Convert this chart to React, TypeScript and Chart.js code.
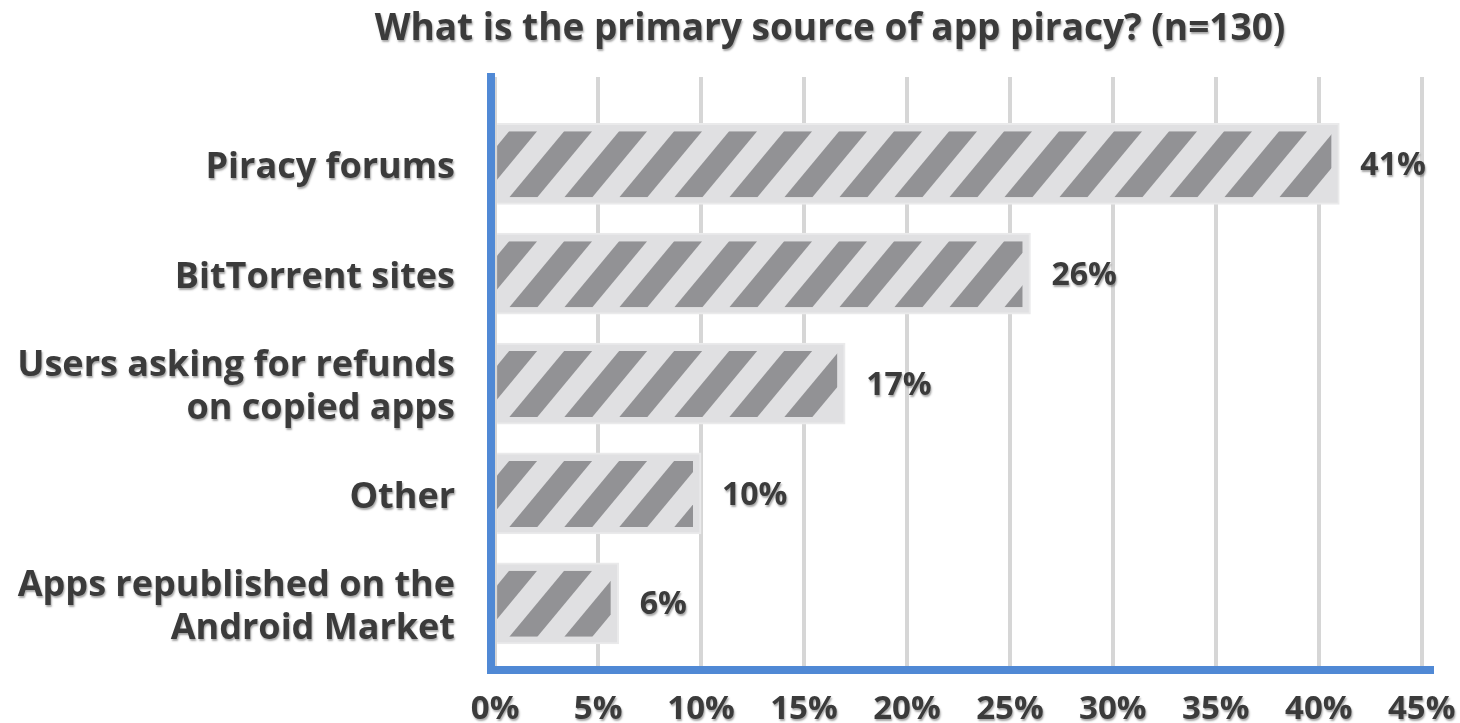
import React, { useEffect, useRef } from "react";
import { Chart, registerables } from "chart.js";

Chart.register(...registerables);

const TITLE = "What is the primary source of app piracy? (n=130)";
const categories: (string | string[])[] = [
  "Piracy forums",
  "BitTorrent sites",
  ["Users asking for refunds", "on copied apps"],
  "Other",
  ["Apps republished on the", "Android Market"],
];
const shares = [41, 26, 17, 10, 6];
const xTickValues = [0, 5, 10, 15, 20, 25, 30, 35, 40, 45];

const FONT = "'Open Sans', 'DejaVu Sans', sans-serif";
const TEXT = "#3b3b3b";
const BLUE = "#5089d5";
const GRID = "#d6d6d6";
const BAR_FILL = "#e0e0e2";
const BAR_EDGE = "#eaeaeb";
const STRIPE = "#929295";

const PLOT_LEFT = 491;
const PLOT_TOP = 77;
const PAD_RIGHT = 28;
const TITLE_CENTER_X = 830;
const TITLE_BASELINE = 40;

const stripePlugin = {
  id: "stripesAndLabels",
  afterDatasetsDraw(chart: any) {
    const ctx = chart.ctx as CanvasRenderingContext2D;
    const meta = chart.getDatasetMeta(0);
    meta.data.forEach((bar: any) => {
      const { x, y, base, height } = bar.getProps(["x", "y", "base", "height"], true);
      const left = Math.min(base, x);
      const right = Math.max(base, x) - 8;
      const top = y - height / 2 + 8;
      const bottom = y + height / 2 - 7;
      const bandH = bottom - top;
      const shift = bandH * 0.83;
      const period = 55;
      const w = 28;
      ctx.save();
      ctx.beginPath();
      ctx.rect(left, top, right - left, bandH);
      ctx.clip();
      ctx.fillStyle = STRIPE;
      for (let a = left + 12 - period; a < right + shift + period; a += period) {
        ctx.beginPath();
        ctx.moveTo(a, top);
        ctx.lineTo(a + w, top);
        ctx.lineTo(a + w - shift, bottom);
        ctx.lineTo(a - shift, bottom);
        ctx.closePath();
        ctx.fill();
      }
      ctx.restore();
    });
    ctx.save();
    ctx.shadowColor = "rgba(60,60,60,0.45)";
    ctx.shadowOffsetX = 1;
    ctx.shadowOffsetY = 2;
    ctx.shadowBlur = 2;
    ctx.fillStyle = TEXT;
    // title
    ctx.font = `bold 37px ${FONT}`;
    ctx.textAlign = "center";
    ctx.textBaseline = "alphabetic";
    ctx.fillText(TITLE, TITLE_CENTER_X, TITLE_BASELINE);
    // value labels
    ctx.font = `bold 32px ${FONT}`;
    ctx.textAlign = "left";
    ctx.textBaseline = "middle";
    meta.data.forEach((bar: any, i: number) => {
      const { x, y } = bar.getProps(["x", "y"], true);
      ctx.fillText(`${shares[i]}%`, x + 21, y + 2);
    });
    // shadow stays on for the tick labels (z: 1, drawn after datasets); restored in afterDraw
  },
  afterDraw(chart: any) {
    chart.ctx.restore();
  },
};

export default function App() {
  const canvasRef = useRef<HTMLCanvasElement | null>(null);

  useEffect(() => {
    if (!canvasRef.current) return;
    const chart = new Chart(canvasRef.current, {
      type: "bar",
      data: {
        datasets: [
          {
            data: shares.map((v, i) => ({ x: v, y: i })),
            backgroundColor: BAR_FILL,
            borderColor: BAR_EDGE,
            borderWidth: 2,
            barThickness: 81,
          },
        ],
      },
      options: {
        indexAxis: "y",
        animation: false,
        responsive: true,
        maintainAspectRatio: false,
        layout: { padding: { left: 0, right: PAD_RIGHT, top: PLOT_TOP, bottom: 0 } },
        plugins: {
          legend: { display: false },
          tooltip: { enabled: false },
          title: { display: false },
        },
        scales: {
          x: {
            type: "linear",
            min: -0.2,
            max: 45.5,
            offset: false,
            afterBuildTicks: (s: any) => {
              s.ticks = xTickValues.map((v) => ({ value: v }));
            },
            afterFit: (s: any) => {
              s.height = 53;
              s.paddingRight = 0;
              s.paddingLeft = 0;
            },
            grid: { color: GRID, lineWidth: 4, drawTicks: false, offset: false },
            border: { display: true, color: BLUE, width: 8 },
            ticks: {
              z: 1,
              padding: 20,
              color: TEXT,
              font: { family: FONT, size: 33, weight: "bold", lineHeight: 1.2 },
              callback: (v: any) => `${v}%`,
              maxRotation: 0,
              autoSkip: false,
            },
          },
          y: {
            type: "linear",
            reverse: true,
            offset: false,
            min: -0.79,
            max: 4.607,
            afterBuildTicks: (s: any) => {
              s.ticks = categories.map((_, i) => ({ value: i }));
            },
            afterFit: (s: any) => {
              s.width = PLOT_LEFT;
              s.paddingTop = 0;
              s.paddingBottom = 0;
            },
            grid: { display: false, drawTicks: false, offset: false },
            border: { display: true, color: BLUE, width: 8 },
            ticks: {
              z: 1,
              padding: 36,
              labelOffset: 4,
              color: TEXT,
              font: { family: FONT, size: 36, weight: "bold", lineHeight: 1.2 },
              callback: (v: any) => categories[v as number] as any,
              autoSkip: false,
            },
          },
        },
      } as any,
      plugins: [stripePlugin as any],
    });
    return () => chart.destroy();
  }, []);

  return (
    <div style={{ position: "absolute", left: 0, top: 0, width: 1460, height: 723, background: "#fff" }}>
      <canvas ref={canvasRef} />
    </div>
  );
}
